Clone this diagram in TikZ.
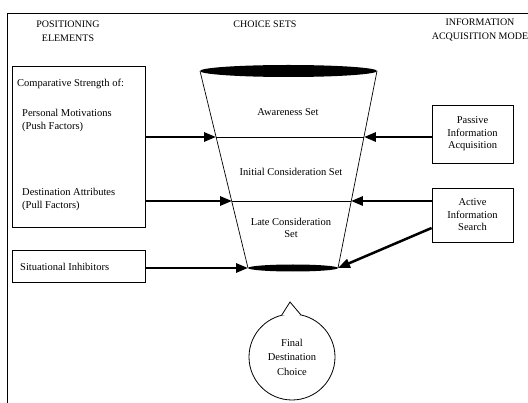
\documentclass[tikz,border=0pt]{standalone}
\usepackage{fontspec}
\setmainfont{Liberation Serif}
\usetikzlibrary{arrows.meta,positioning,calc}
\tikzset{
  >={Triangle[length=4.2mm,width=3.2mm]},
  hdr/.style={font=\fontsize{10}{14}\selectfont,align=center},
  txt/.style={font=\fontsize{10.5}{12.5}\selectfont,align=center,inner sep=0pt},
  pbox/.style={draw,line width=0.8pt,inner sep=0pt},
  arr/.style={->,line width=2.5pt},
  fline/.style={line width=0.7pt},
}

\begin{document}
\begin{tikzpicture}[x=1pt,y=-1pt]
\useasboundingbox (0,0) rectangle (528,403);
% outer frame (only top and left edges show)
\draw[line width=0.9pt] (528,13) -- (7,13) -- (7,403);
% column heads
\node[hdr] (hpos) at (68,31) {POSITIONING\\ELEMENTS};
\node[hdr] (hcs) at (265,24) {CHOICE SETS};
\node[hdr] (hinf) at (480,30) {INFORMATION\\ACQUISITION MODE};
% positioning elements
\node[pbox,minimum width=133pt,minimum height=161pt] (strength) at (78.5,146.5) {};
\node[txt,anchor=west] (comp) at (17,84) {Comparative Strength of:};
\node[txt,anchor=west,align=left] (push) at (22,120.5) {Personal Motivations\\(Push Factors)};
\node[txt,anchor=west,align=left] (pull) at (22,199.5) {Destination Attributes\\(Pull Factors)};
\node[pbox,minimum width=133pt,minimum height=32pt] (inhib) at (78.5,266) {};
\node[txt,anchor=west] (inhibt) at (20,267) {Situational Inhibitors};
% funnel
\coordinate (tl) at (200,71);
\coordinate (tr) at (377,71);
\coordinate (bl) at (248,268);
\coordinate (br) at (338,268);
\draw[fline] (tl) -- (bl);
\draw[fline] (tr) -- (br);
\fill (288.5,71) ellipse [x radius=88.5,y radius=6];
\fill (293,268) ellipse [x radius=45,y radius=3.5];
\coordinate (l1) at (216,137);
\coordinate (r1) at (364,137);
\coordinate (l2) at (232,201);
\coordinate (r2) at (351,201);
\draw[fline] (l1) -- (r1);
\draw[fline] (l2) -- (r2);
\node[txt] (aware) at (288,112) {Awareness Set};
\node[txt] (init) at (291,172) {Initial Consideration Set};
\node[txt] (late) at (291,228) {Late Consideration\\Set};
% information acquisition
\node[pbox,minimum width=81pt,minimum height=58pt] (passive) at (472.5,134) {};
\node[txt] at (passive) {Passive\\Information\\Acquisition};
\node[pbox,minimum width=81pt,minimum height=54pt] (active) at (472.5,215) {};
\node[txt] at (active) {Active\\Information\\Search};
% final choice bubble
\node[draw,circle,line width=0.8pt,minimum size=86pt,txt,font=\fontsize{10.5}{14.5}\selectfont] (final) at (292,357) {Final\\Destination\\Choice};
\coordinate (tip) at (290,302);
\draw[line width=0.8pt,fill=white] ($(final.center)+(-104:43)$) -- (tip) -- ($(final.center)+(-78:43)$);
% arrows
\draw[arr] (strength.east |- l1) -- (l1);
\draw[arr] (strength.east |- l2) -- (l2);
\draw[arr] (inhib.east |- bl) -- (bl);
\draw[arr] (passive.west |- r1) -- (r1);
\draw[arr] (active.west |- r2) -- (r2);
\draw[arr] ($(active.west)+(0,13)$) -- (br);
\end{tikzpicture}
\end{document}
